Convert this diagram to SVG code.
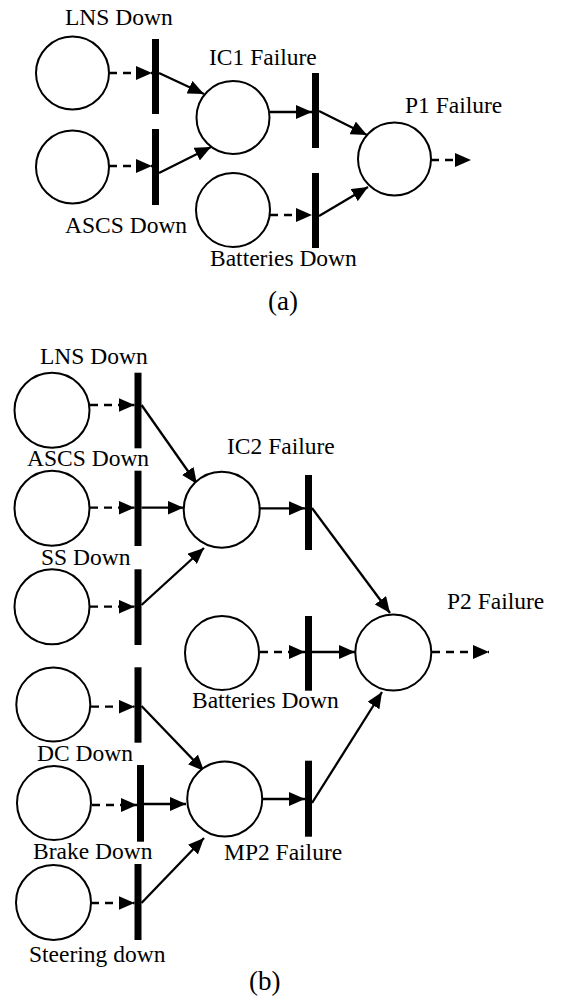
<svg xmlns="http://www.w3.org/2000/svg" width="571" height="996" viewBox="0 0 571 996">
<style>
.place{fill:#fff;stroke:#000;stroke-width:2}
.bar{fill:#000;stroke:none}
.arc{fill:none;stroke:#000;stroke-width:2.3;marker-end:url(#ah)}
.dash{stroke-dasharray:8,6}
text{font-family:"Liberation Serif","Times New Roman",serif;font-size:23.5px;fill:#000}
.cap{font-size:27px}
</style>
<defs>
<marker id="ah" viewBox="0 0 16 14" refX="16" refY="7" markerWidth="16" markerHeight="14" markerUnits="userSpaceOnUse" orient="auto">
<path d="M0,0 L16,7 L0,14 Z" fill="#000"/>
</marker>
</defs>
<rect width="571" height="996" fill="#fff"/>
<g id="connectors">
<line class="arc dash" x1="109" y1="73" x2="152" y2="73"/>
<line class="arc" x1="159" y1="73" x2="204" y2="94"/>
<line class="arc dash" x1="109" y1="166" x2="152" y2="166"/>
<line class="arc" x1="159" y1="173" x2="211" y2="147"/>
<line class="arc" x1="270" y1="112" x2="312" y2="112"/>
<line class="arc" x1="319" y1="111" x2="367" y2="135"/>
<line class="arc dash" x1="270" y1="215" x2="312" y2="215"/>
<line class="arc" x1="319" y1="216" x2="368" y2="187"/>
<line class="arc dash" x1="431" y1="160" x2="471" y2="160"/>

<line class="arc dash" x1="90" y1="405" x2="134.5" y2="405"/>
<line class="arc" x1="141.5" y1="405" x2="197" y2="484"/>
<line class="arc dash" x1="90" y1="507.7" x2="134.5" y2="507.7"/>
<line class="arc" x1="141.5" y1="507.7" x2="183.5" y2="507.7"/>
<line class="arc dash" x1="90" y1="606.7" x2="134.5" y2="606.7"/>
<line class="arc" x1="141.5" y1="605" x2="204" y2="548"/>
<line class="arc" x1="260" y1="508.3" x2="305" y2="508.3"/>
<line class="arc" x1="312" y1="508" x2="390" y2="613"/>
<line class="arc dash" x1="260" y1="652" x2="305" y2="652"/>
<line class="arc" x1="312" y1="652" x2="355" y2="652"/>
<line class="arc dash" x1="432" y1="652" x2="489" y2="652"/>
<line class="arc dash" x1="91" y1="706.7" x2="134.5" y2="706.7"/>
<line class="arc" x1="141.5" y1="706" x2="204" y2="771"/>
<line class="arc dash" x1="92" y1="805" x2="137" y2="805"/>
<line class="arc" x1="144" y1="804" x2="186" y2="804"/>
<line class="arc dash" x1="91" y1="903" x2="134.5" y2="903"/>
<line class="arc" x1="141.5" y1="903" x2="204" y2="838"/>
<line class="arc" x1="263" y1="799" x2="305" y2="799"/>
<line class="arc" x1="312" y1="803" x2="382" y2="692"/>
</g>

<g id="a-lns"><circle class="place" cx="72.5" cy="73" r="36.5"/><text x="65" y="25">LNS Down</text></g>
<g id="a-ascs"><circle class="place" cx="72.5" cy="167" r="36.5"/><text x="65" y="233">ASCS Down</text></g>
<g id="a-ic1"><circle class="place" cx="233" cy="117.5" r="36.5"/><text x="209" y="65">IC1 Failure</text></g>
<g id="a-batt"><circle class="place" cx="233" cy="210" r="37"/><text x="210" y="266">Batteries Down</text></g>
<g id="a-p1"><circle class="place" cx="394.5" cy="159" r="36.5"/><text x="405" y="113">P1 Failure</text></g>
<g id="a-t1"><rect class="bar" x="152" y="39" width="7" height="75"/></g>
<g id="a-t2"><rect class="bar" x="152" y="129" width="7" height="76"/></g>
<g id="a-t3"><rect class="bar" x="312" y="73" width="7" height="75"/></g>
<g id="a-t4"><rect class="bar" x="312" y="173" width="7" height="75"/></g>
<text class="cap" x="268" y="310">(a)</text>

<g id="b-lns"><circle class="place" cx="52" cy="410.3" r="37.5"/><text x="40" y="364">LNS Down</text></g>
<g id="b-ascs"><circle class="place" cx="52" cy="508.3" r="37.5"/><text x="27" y="466">ASCS Down</text></g>
<g id="b-ss"><circle class="place" cx="52" cy="606.7" r="37.5"/><text x="41" y="565">SS Down</text></g>
<g id="b-ic2"><circle class="place" cx="221.7" cy="509.7" r="38"/><text x="227" y="454">IC2 Failure</text></g>
<g id="b-batt"><circle class="place" cx="222" cy="653" r="37"/><text x="192" y="708">Batteries Down</text></g>
<g id="b-dc"><circle class="place" cx="53.3" cy="704.5" r="37"/><text x="37" y="761">DC Down</text></g>
<g id="b-brake"><circle class="place" cx="54" cy="803" r="37"/><text x="33" y="859">Brake Down</text></g>
<g id="b-steer"><circle class="place" cx="53.5" cy="902.5" r="37.5"/><text x="29" y="962">Steering down</text></g>
<g id="b-mp2"><circle class="place" cx="224.7" cy="799" r="37.5"/><text x="224" y="860">MP2 Failure</text></g>
<g id="b-p2"><circle class="place" cx="393.3" cy="652.5" r="38"/><text x="447" y="609">P2 Failure</text></g>
<g id="b-t1"><rect class="bar" x="134.5" y="372.7" width="7" height="75.6"/></g>
<g id="b-t2"><rect class="bar" x="134.5" y="470.7" width="7" height="75.3"/></g>
<g id="b-t3"><rect class="bar" x="134.5" y="569.3" width="7" height="75.7"/></g>
<g id="b-t4"><rect class="bar" x="134.5" y="667.3" width="7" height="75.4"/></g>
<g id="b-t5"><rect class="bar" x="137" y="765" width="7" height="76.7"/></g>
<g id="b-t6"><rect class="bar" x="134.5" y="864" width="7" height="76"/></g>
<g id="b-t7"><rect class="bar" x="305" y="475" width="7" height="75"/></g>
<g id="b-t8"><rect class="bar" x="305" y="616" width="7" height="74.7"/></g>
<g id="b-t9"><rect class="bar" x="305" y="760.7" width="7" height="76"/></g>
<text class="cap" x="249" y="990">(b)</text>
</svg>
